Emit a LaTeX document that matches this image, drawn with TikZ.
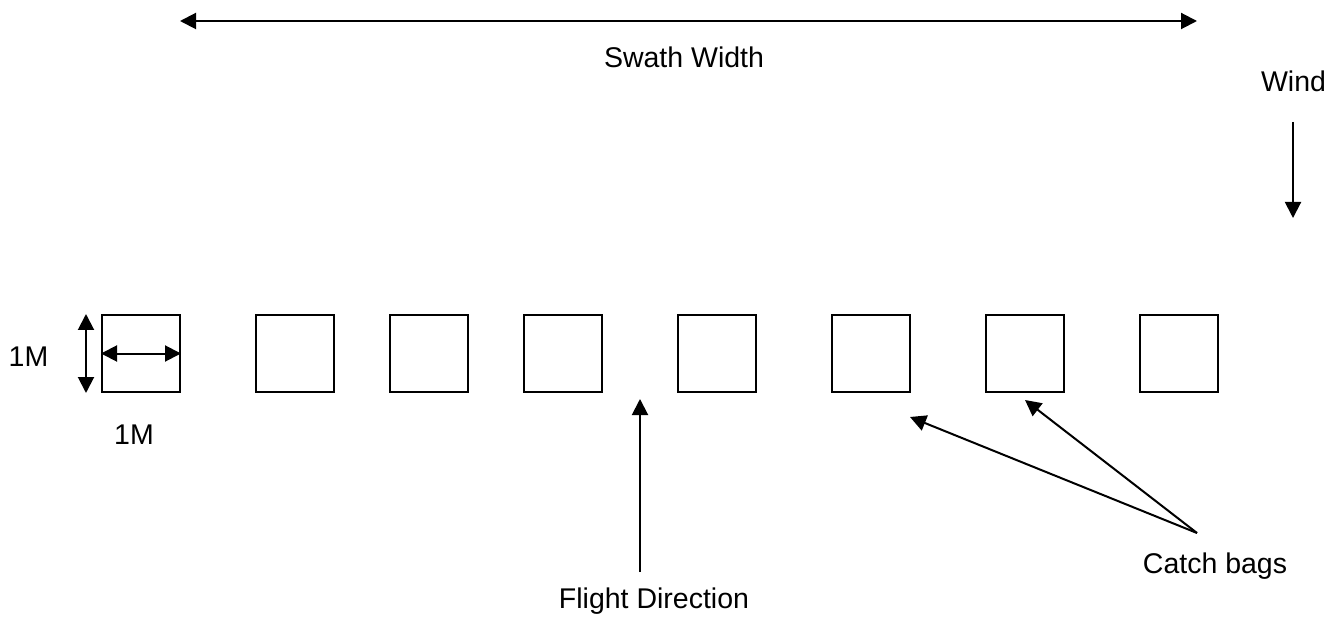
\documentclass[tikz,border=0pt]{standalone}
\usepackage{fontspec}
\setmainfont{Liberation Sans}
\usetikzlibrary{arrows.meta}
\begin{document}
\begin{tikzpicture}[x=1pt,y=-1pt,
  bag/.style={draw,line width=2pt,minimum width=78pt,minimum height=77pt,inner sep=0pt},
  lbl/.style={font=\fontsize{28.5}{34}\selectfont,anchor=base,inner sep=0pt},
  tip/.style={Triangle[length=16pt,width=16pt]},
  arr/.style={line width=2pt,-{Triangle[length=16pt,width=16pt]}},
  dbl/.style={line width=2pt,{Triangle[length=16pt,width=16pt]}-{Triangle[length=16pt,width=16pt]}}]
\useasboundingbox (0,0) rectangle (1343,617);

% catch bags in a row
\node[bag] (b1) at (141,353.5) {};
\node[bag] (b2) at (295,353.5) {};
\node[bag] (b3) at (429,353.5) {};
\node[bag] (b4) at (563,353.5) {};
\node[bag] (b5) at (717,353.5) {};
\node[bag] (b6) at (871,353.5) {};
\node[bag] (b7) at (1025,353.5) {};
\node[bag] (b8) at (1179,353.5) {};

% labels
\node[lbl] (swath) at (684,68) {Swath Width};
\node[lbl] (wind) at (1293.5,92) {Wind};
\node[lbl] (m1) at (28.5,366) {1M};
\node[lbl] (m2) at (134,444) {1M};
\node[lbl] (flight) at (654,608) {Flight Direction};
\node[lbl] (catch) at (1215,573.5) {Catch bags};

% swath width
\coordinate (sL) at (180,21);
\coordinate (sR) at (1197,21);
\draw[dbl] (sL) -- (sR);

% wind direction
\coordinate (wTop) at (1293,122);
\coordinate (wBot) at (1293,218);
\draw[arr] (wTop) -- (wBot);

% bag dimensions
\coordinate (vx) at (86,0);
\coordinate (vT) at (vx |- b1.north);
\coordinate (vB) at (vx |- b1.south);
\draw[dbl] (vT) -- (vB);
\draw[dbl] (b1.west) -- (b1.east);

% flight direction
\coordinate (fStart) at (640,572);
\coordinate (fEnd) at (640,399);
\draw[arr] (fStart) -- (fEnd);

% pointers to the bags
\coordinate (cStart) at (1197,533);
\coordinate (c6) at (910,417);
\coordinate (c7) at (1025,400);
\draw[arr] (cStart) -- (c6);
\draw[arr] (cStart) -- (c7);
\end{tikzpicture}
\end{document}
